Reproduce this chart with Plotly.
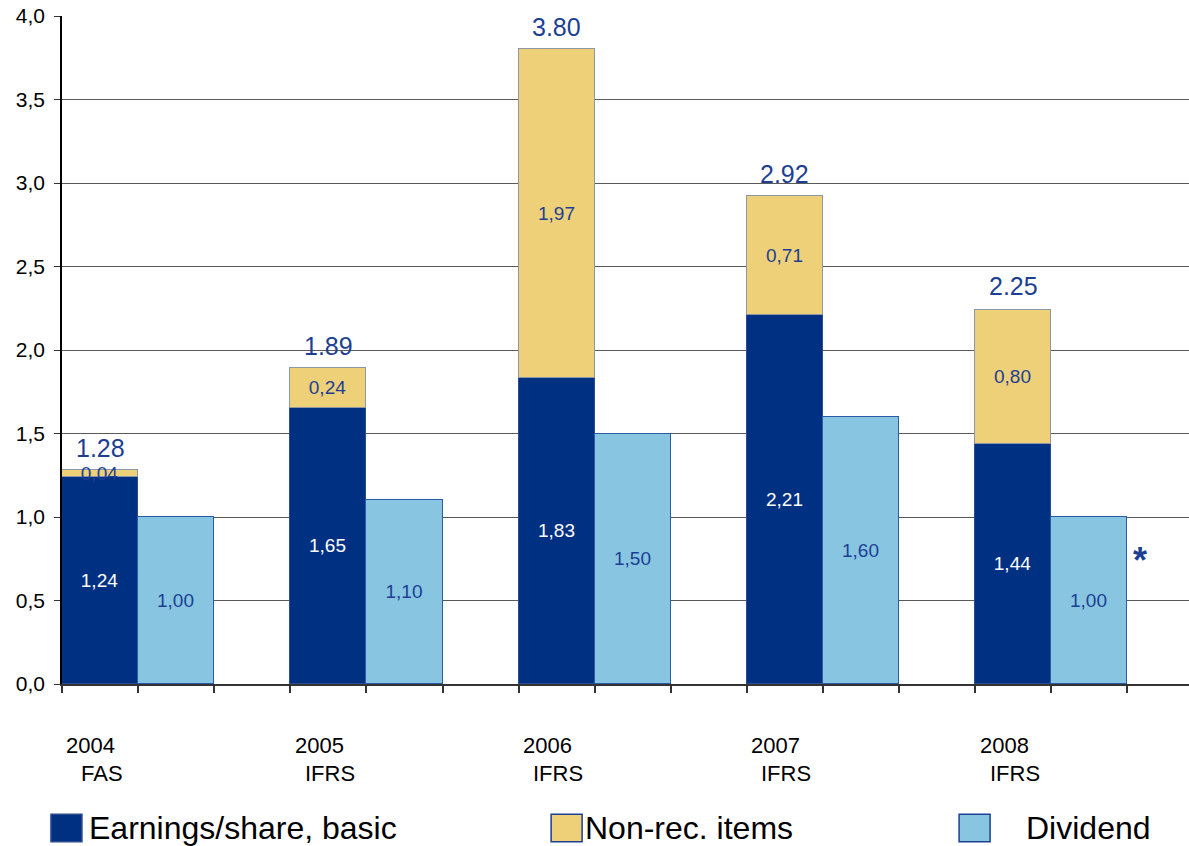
import plotly.graph_objects as go

years = ["2004", "2005", "2006", "2007", "2008"]
standards = ["FAS", "IFRS", "IFRS", "IFRS", "IFRS"]
eps_basic = [1.24, 1.65, 1.83, 2.21, 1.44]
non_rec = [0.04, 0.24, 1.97, 0.71, 0.80]
dividend = [1.00, 1.10, 1.50, 1.60, 1.00]
totals = [1.28, 1.89, 3.80, 2.92, 2.25]

NAVY = "#003082"
YELLOW = "#EDD078"
LIGHT = "#87C5E1"
LABEL_BLUE = "#1C3F94"
FONT = "Liberation Sans, Arial, sans-serif"

# each year occupies 3 slots: earnings, dividend, gap
x_eps = [3 * i + 0.5 for i in range(len(years))]
x_div = [3 * i + 1.5 for i in range(len(years))]

fig = go.Figure()
fig.add_trace(go.Bar(
    x=x_eps, y=eps_basic, width=1, name="Earnings/share, basic",
    marker=dict(color=NAVY, line=dict(color="#2B4C8C", width=1)),
    text=[f"{v:.2f}".replace(".", ",") for v in eps_basic],
    textposition="inside", insidetextanchor="middle", textangle=0,
    constraintext="none",
    textfont=dict(color="white", size=19, family=FONT),
))
fig.add_trace(go.Bar(
    x=x_eps, y=non_rec, width=1, name="Non-rec. items",
    marker=dict(color=YELLOW, line=dict(color="#8C97A8", width=1)),
    text=[f"{v:.2f}".replace(".", ",") for v in non_rec],
    textposition="inside", insidetextanchor="middle", textangle=0,
    constraintext="none",
    textfont=dict(color=LABEL_BLUE, size=19, family=FONT),
))
fig.add_trace(go.Bar(
    x=x_div, y=dividend, width=1, name="Dividend",
    marker=dict(color=LIGHT, line=dict(color="#2A5AA8", width=1)),
    text=[f"{v:.2f}".replace(".", ",") for v in dividend],
    textposition="inside", insidetextanchor="middle", textangle=0,
    constraintext="none",
    textfont=dict(color=LABEL_BLUE, size=19, family=FONT),
))

annotations = []
for xe, t in zip(x_eps, totals):
    annotations.append(dict(
        x=xe, y=t, xref="x", yref="y", text=f"{t:.2f}", showarrow=False,
        yanchor="bottom", yshift=6,
        font=dict(size=25, color=LABEL_BLUE, family=FONT),
    ))
for i, (yr, st) in enumerate(zip(years, standards)):
    annotations.append(dict(
        x=3 * i + 0.38, y=-0.092, xref="x", yref="paper", text=yr,
        xanchor="center", yanchor="middle",
        showarrow=False, font=dict(size=22, color="black", family=FONT),
    ))
    annotations.append(dict(
        x=3 * i + 0.52, y=-0.134, xref="x", yref="paper", text=st,
        xanchor="center", yanchor="middle",
        showarrow=False, font=dict(size=22, color="black", family=FONT),
    ))
# asterisk next to the 2008 dividend bar
annotations.append(dict(
    x=x_div[-1] + 0.66, y=dividend[-1] * 0.74, xref="x", yref="y", text="<b>*</b>",
    xanchor="center", yanchor="middle",
    showarrow=False, font=dict(size=36, color=LABEL_BLUE, family=FONT),
))

# manual legend
legend_items = [
    ("Earnings/share, basic", NAVY, "#2B4C8C", -0.0098, 0.0225),
    ("Non-rec. items", YELLOW, "#1C3F94", 0.434, 0.462),
    ("Dividend", LIGHT, "#1C3F94", 0.796, 0.8535),
]
shapes = []
for name, fill, line, x0, tx in legend_items:
    shapes.append(dict(
        type="rect", xref="paper", yref="paper",
        x0=x0, x1=x0 + 0.0275, y0=-0.236, y1=-0.195,
        fillcolor=fill, line=dict(color=line, width=1.5),
    ))
    annotations.append(dict(
        x=tx, y=-0.216, xref="paper", yref="paper", text=name,
        xanchor="left", yanchor="middle", showarrow=False,
        font=dict(size=32, color="black", family=FONT),
    ))

fig.update_layout(
    barmode="stack",
    width=1189, height=846,
    margin=dict(l=62, r=0, t=16, b=162),
    paper_bgcolor="white", plot_bgcolor="white",
    showlegend=False,
    separators=",.",
    font=dict(family=FONT, color="black"),
    annotations=annotations,
    shapes=shapes,
    bargap=0,
)
fig.update_xaxes(
    range=[0, (1189 - 62) / 76.1],
    tickvals=list(range(15)), showticklabels=False,
    ticks="outside", ticklen=7, tickcolor="#333", tickwidth=1.5,
    showline=True, linecolor="#333", linewidth=1.5,
    showgrid=False, zeroline=False,
)
fig.update_yaxes(
    range=[0, 4], dtick=0.5, tickformat=".1f",
    ticks="outside", ticklen=6, tickcolor="#333",
    tickfont=dict(size=21, color="black", family=FONT),
    ticklabelstandoff=5,
    showline=True, linecolor="black", linewidth=1.5,
    showgrid=True, gridcolor="#5a5a5a", gridwidth=1,
    zeroline=False,
)

fig.write_html("out.html")
